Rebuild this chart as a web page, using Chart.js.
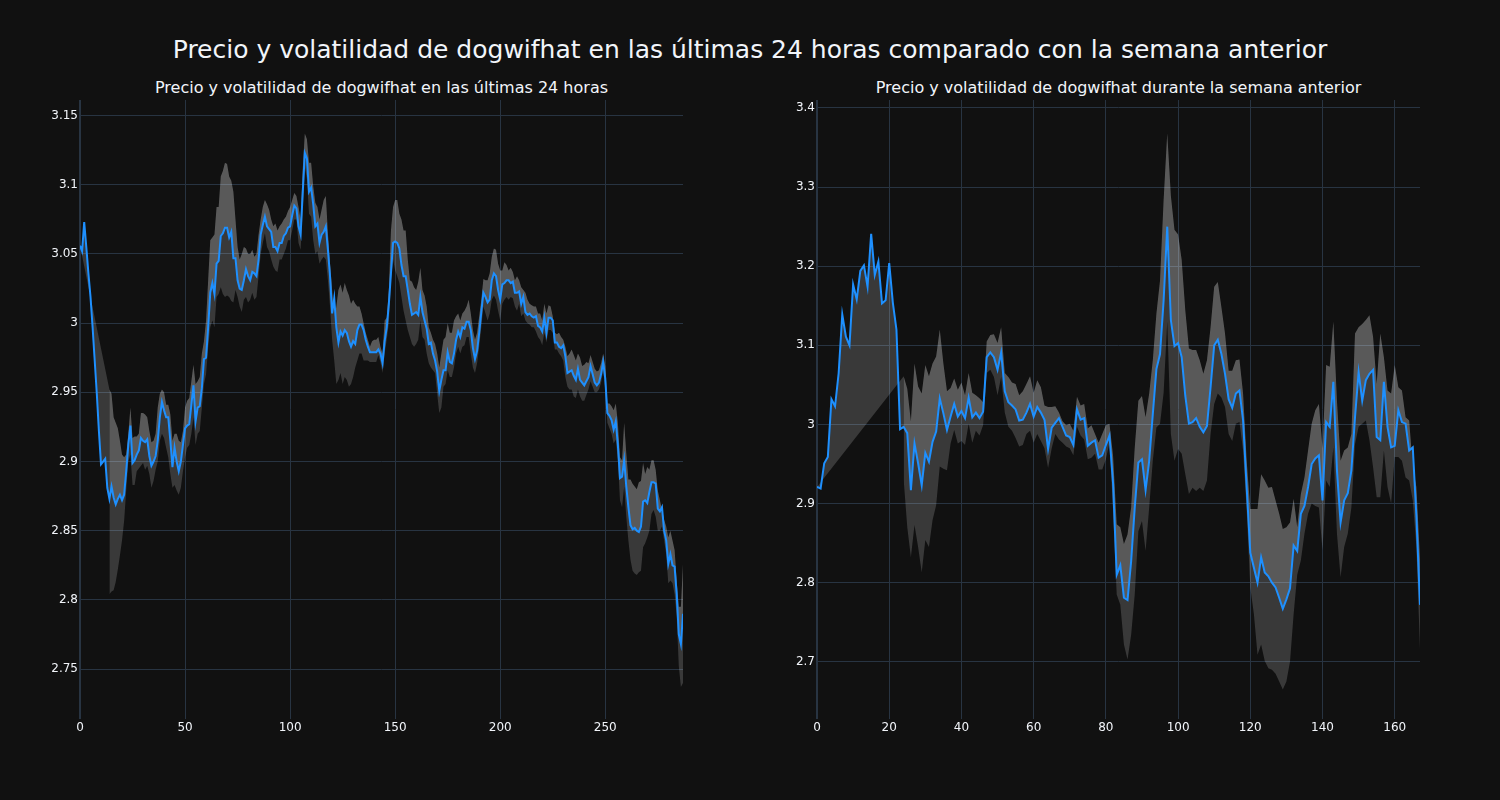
<!DOCTYPE html>
<html>
<head>
<meta charset="UTF-8">
<title>Precio y volatilidad de dogwifhat</title>
<script src="https://cdn.jsdelivr.net/npm/chart.js"></script>
<style>
  body { margin: 0; background: #111111; width: 1500px; height: 800px; overflow: hidden;
         font-family: "DejaVu Sans", sans-serif; color: #f2f5fa; }
  .title { position: absolute; white-space: nowrap; transform: translateX(-50%); }
  #mainTitle { left: 750px; top: 35px; font-size: 25px; line-height: 30px; }
  .subTitle { top: 78px; font-size: 16px; line-height: 20px; }
  canvas { position: absolute; top: 0; }
</style>
</head>
<body>
<div class="title" id="mainTitle">Precio y volatilidad de dogwifhat en las últimas 24 horas comparado con la semana anterior</div>
<div class="title subTitle" style="left:381.5px">Precio y volatilidad de dogwifhat en las últimas 24 horas</div>
<div class="title subTitle" style="left:1118.5px">Precio y volatilidad de dogwifhat durante la semana anterior</div>
<canvas id="dayChart" width="700" height="800" style="left:0px"></canvas>
<canvas id="weekChart" width="700" height="800" style="left:737px"></canvas>
<script>
// ---- last 24 hours (5 minute steps) ----
const dayPrice = [
  3.056, 3.052, 3.073, 3.055, 3.036, 3.019, 2.997, 2.973, 2.949, 2.922,
  2.898, 2.900, 2.902, 2.881, 2.873, 2.882, 2.874, 2.869, 2.873, 2.876,
  2.872, 2.876, 2.893, 2.912, 2.926, 2.899, 2.901, 2.905, 2.908, 2.917,
  2.915, 2.914, 2.916, 2.904, 2.897, 2.900, 2.904, 2.915, 2.932, 2.943,
  2.937, 2.932, 2.932, 2.915, 2.896, 2.910, 2.900, 2.893, 2.900, 2.912,
  2.924, 2.926, 2.927, 2.941, 2.955, 2.929, 2.939, 2.940, 2.953, 2.974,
  2.975, 2.997, 3.022, 3.029, 3.021, 3.043, 3.045, 3.063, 3.065, 3.069,
  3.069, 3.062, 3.066, 3.047, 3.047, 3.031, 3.025, 3.024, 3.031, 3.039,
  3.034, 3.031, 3.037, 3.036, 3.034, 3.046, 3.064, 3.071, 3.077, 3.070,
  3.068, 3.066, 3.055, 3.055, 3.052, 3.058, 3.058, 3.063, 3.065, 3.069,
  3.070, 3.078, 3.085, 3.083, 3.070, 3.064, 3.094, 3.123, 3.119, 3.095,
  3.098, 3.086, 3.070, 3.072, 3.058, 3.064, 3.066, 3.070, 3.053, 3.034,
  3.007, 3.018, 2.997, 2.986, 2.994, 2.991, 2.995, 2.993, 2.987, 2.983,
  2.987, 2.985, 2.995, 2.999, 2.999, 2.995, 2.988, 2.983, 2.979, 2.979,
  2.979, 2.979, 2.981, 2.978, 2.971, 2.987, 2.997, 3.014, 3.036, 3.058,
  3.059, 3.058, 3.054, 3.042, 3.034, 3.034, 3.024, 3.014, 3.006, 3.007,
  3.008, 3.006, 3.019, 3.008, 3.002, 2.996, 2.985, 2.986, 2.978, 2.973,
  2.965, 2.951, 2.959, 2.966, 2.966, 2.979, 2.972, 2.971, 2.978, 2.988,
  2.994, 2.990, 2.997, 2.996, 3.001, 3.001, 2.995, 2.982, 2.974, 2.980,
  2.993, 3.008, 3.022, 3.019, 3.015, 3.017, 3.031, 3.036, 3.034, 3.024,
  3.017, 3.028, 3.029, 3.031, 3.031, 3.029, 3.030, 3.022, 3.022, 3.023,
  3.014, 3.019, 3.008, 3.006, 3.007, 3.005, 3.004, 3.005, 2.998, 2.997,
  2.994, 3.004, 2.993, 3.004, 3.004, 3.002, 2.986, 2.986, 2.983, 2.982,
  2.984, 2.976, 2.964, 2.965, 2.966, 2.962, 2.959, 2.967, 2.959, 2.957,
  2.955, 2.958, 2.961, 2.969, 2.963, 2.957, 2.955, 2.957, 2.963, 2.972,
  2.960, 2.935, 2.933, 2.930, 2.923, 2.929, 2.912, 2.888, 2.889, 2.901,
  2.882, 2.867, 2.854, 2.851, 2.852, 2.850, 2.849, 2.853, 2.871, 2.872,
  2.870, 2.878, 2.885, 2.885, 2.884, 2.866, 2.864, 2.867, 2.850, 2.843,
  2.826, 2.833, 2.825, 2.824, 2.804, 2.775, 2.768, 2.790
];
const dayBandStart = 14;
const dayUpper = [
  2.952, 2.949, 2.932, 2.928, 2.924, 2.915, 2.905, 2.903, 2.905, 2.920,
  2.939, 2.917, 2.918, 2.918, 2.920, 2.935, 2.935, 2.934, 2.932, 2.922,
  2.914, 2.915, 2.920, 2.939, 2.949, 2.952, 2.950, 2.941, 2.941, 2.934,
  2.915, 2.920, 2.920, 2.915, 2.914, 2.922, 2.939, 2.944, 2.946, 2.958,
  2.970, 2.956, 2.958, 2.961, 2.978, 2.987, 3.002, 3.031, 3.060, 3.062,
  3.064, 3.084, 3.084, 3.106, 3.110, 3.116, 3.115, 3.106, 3.103, 3.095,
  3.075, 3.055, 3.046, 3.050, 3.055, 3.054, 3.050, 3.050, 3.053, 3.048,
  3.050, 3.064, 3.075, 3.084, 3.089, 3.086, 3.082, 3.075, 3.070, 3.072,
  3.067, 3.070, 3.072, 3.075, 3.077, 3.081, 3.084, 3.089, 3.094, 3.092,
  3.084, 3.075, 3.111, 3.137, 3.133, 3.116, 3.116, 3.099, 3.087, 3.084,
  3.075, 3.082, 3.089, 3.092, 3.065, 3.043, 3.024, 3.002, 3.012, 3.024,
  3.028, 3.022, 3.029, 3.024, 3.020, 3.014, 3.017, 3.014, 3.012, 3.012,
  3.007, 3.000, 2.993, 2.988, 2.983, 2.987, 2.988, 2.988, 2.990, 2.983,
  2.978, 3.002, 3.004, 3.024, 3.067, 3.084, 3.089, 3.089, 3.079, 3.075,
  3.067, 3.067, 3.046, 3.031, 3.030, 3.026, 3.024, 3.030, 3.040, 3.024,
  3.020, 3.012, 2.997, 2.993, 2.988, 2.985, 2.978, 2.968, 2.978, 2.988,
  2.990, 3.000, 2.993, 2.993, 3.002, 3.005, 3.007, 3.002, 3.007, 3.009,
  3.012, 3.017, 3.007, 2.995, 2.988, 2.993, 3.005, 3.017, 3.032, 3.031,
  3.031, 3.036, 3.048, 3.054, 3.053, 3.043, 3.038, 3.038, 3.044, 3.042,
  3.038, 3.040, 3.037, 3.031, 3.034, 3.031, 3.026, 3.024, 3.022, 3.017,
  3.014, 3.013, 3.012, 3.012, 3.007, 3.007, 3.002, 3.014, 3.007, 3.013,
  3.012, 3.005, 2.993, 2.992, 2.993, 2.990, 2.988, 2.983, 2.976, 2.978,
  2.981, 2.977, 2.973, 2.978, 2.975, 2.969, 2.970, 2.972, 2.971, 2.977,
  2.972, 2.967, 2.965, 2.966, 2.971, 2.978, 2.969, 2.942, 2.942, 2.940,
  2.937, 2.942, 2.928, 2.903, 2.901, 2.928, 2.906, 2.887, 2.887, 2.884,
  2.882, 2.880, 2.885, 2.886, 2.899, 2.891, 2.896, 2.894, 2.901, 2.901,
  2.894, 2.879, 2.872, 2.865, 2.858, 2.853, 2.845, 2.850, 2.843, 2.836,
  2.814, 2.795, 2.795, 2.826
];
const dayLower = [
  2.804, 2.806, 2.807, 2.813, 2.822, 2.832, 2.843, 2.857, 2.879, 2.900,
  2.905, 2.883, 2.883, 2.893, 2.895, 2.897, 2.899, 2.894, 2.897, 2.891,
  2.881, 2.886, 2.894, 2.900, 2.915, 2.920, 2.917, 2.910, 2.903, 2.891,
  2.881, 2.883, 2.879, 2.876, 2.881, 2.893, 2.903, 2.910, 2.912, 2.920,
  2.932, 2.912, 2.920, 2.922, 2.939, 2.956, 2.963, 2.982, 2.997, 3.002,
  2.997, 3.019, 3.021, 3.026, 3.021, 3.019, 3.020, 3.019, 3.016, 3.015,
  3.024, 3.019, 3.012, 3.008, 3.017, 3.019, 3.015, 3.017, 3.022, 3.017,
  3.019, 3.034, 3.050, 3.058, 3.065, 3.055, 3.052, 3.046, 3.041, 3.038,
  3.037, 3.046, 3.046, 3.050, 3.054, 3.060, 3.060, 3.067, 3.075, 3.075,
  3.058, 3.053, 3.082, 3.113, 3.104, 3.079, 3.077, 3.060, 3.050, 3.052,
  3.043, 3.046, 3.048, 3.046, 3.031, 3.012, 2.988, 2.973, 2.956, 2.959,
  2.964, 2.956, 2.961, 2.959, 2.954, 2.956, 2.961, 2.968, 2.973, 2.978,
  2.978, 2.973, 2.973, 2.973, 2.972, 2.972, 2.972, 2.972, 2.977, 2.972,
  2.964, 2.978, 2.988, 3.000, 3.031, 3.046, 3.038, 3.034, 3.029, 3.019,
  3.009, 3.002, 2.995, 2.990, 2.985, 2.983, 2.985, 2.988, 3.002, 2.990,
  2.988, 2.978, 2.971, 2.968, 2.966, 2.964, 2.949, 2.935, 2.939, 2.954,
  2.956, 2.966, 2.961, 2.961, 2.968, 2.978, 2.983, 2.978, 2.983, 2.984,
  2.990, 2.990, 2.978, 2.968, 2.964, 2.971, 2.983, 2.997, 3.012, 3.007,
  3.002, 3.007, 3.017, 3.020, 3.017, 3.009, 3.002, 3.014, 3.017, 3.019,
  3.017, 3.019, 3.018, 3.012, 3.009, 3.014, 3.005, 3.007, 3.002, 3.000,
  2.999, 2.997, 2.997, 2.994, 2.990, 2.988, 2.984, 2.993, 2.986, 2.995,
  2.995, 2.993, 2.981, 2.981, 2.978, 2.976, 2.973, 2.961, 2.954, 2.952,
  2.952, 2.947, 2.946, 2.952, 2.947, 2.944, 2.944, 2.948, 2.952, 2.958,
  2.954, 2.950, 2.950, 2.952, 2.957, 2.966, 2.952, 2.928, 2.924, 2.920,
  2.913, 2.916, 2.901, 2.872, 2.867, 2.882, 2.860, 2.843, 2.829, 2.821,
  2.819, 2.818, 2.820, 2.821, 2.838, 2.841, 2.845, 2.850, 2.862, 2.865,
  2.860, 2.850, 2.850, 2.853, 2.843, 2.833, 2.812, 2.814, 2.812, 2.804,
  2.788, 2.752, 2.737, 2.740
];
const dayXTicks = [0, 50, 100, 150, 200, 250];
const dayYTicks = [2.75, 2.8, 2.85, 2.9, 2.95, 3, 3.05, 3.1, 3.15];

// ---- previous week (hourly) ----
const weekPrice = [
  2.921, 2.919, 2.951, 2.959, 3.032, 3.023, 3.065, 3.139, 3.111, 3.100,
  3.177, 3.158, 3.194, 3.201, 3.174, 3.241, 3.189, 3.206, 3.153, 3.157,
  3.204, 3.154, 3.120, 2.994, 2.997, 2.989, 2.917, 2.976, 2.951, 2.923,
  2.964, 2.953, 2.978, 2.991, 3.033, 3.014, 2.993, 3.010, 3.026, 3.010,
  3.017, 3.008, 3.034, 3.009, 3.015, 3.008, 3.016, 3.085, 3.091, 3.085,
  3.069, 3.091, 3.042, 3.028, 3.024, 3.019, 3.005, 3.006, 3.015, 3.026,
  3.010, 3.022, 3.015, 3.006, 2.969, 2.996, 3.002, 3.008, 2.997, 2.986,
  2.984, 2.974, 3.019, 3.006, 3.008, 2.973, 2.977, 2.980, 2.958, 2.961,
  2.974, 2.986, 2.925, 2.810, 2.822, 2.781, 2.778, 2.827, 2.895, 2.952,
  2.956, 2.917, 2.954, 3.013, 3.070, 3.089, 3.157, 3.250, 3.132, 3.099,
  3.103, 3.085, 3.036, 3.001, 3.003, 3.008, 2.997, 2.990, 2.998, 3.047,
  3.100, 3.107, 3.089, 3.064, 3.032, 3.021, 3.039, 3.043, 3.005, 2.920,
  2.838, 2.819, 2.800, 2.832, 2.813, 2.808, 2.800, 2.794, 2.781, 2.767,
  2.779, 2.793, 2.847, 2.840, 2.887, 2.897, 2.921, 2.950, 2.957, 2.961,
  2.904, 3.003, 2.997, 3.054, 2.942, 2.876, 2.904, 2.913, 2.942, 3.009,
  3.066, 3.030, 3.056, 3.064, 3.069, 2.984, 2.980, 3.054, 2.997, 2.971,
  2.973, 3.018, 3.003, 3.001, 2.967, 2.971, 2.884, 2.772
];
const weekBandStart = 24;
const weekUpper = [
  3.061, 3.045, 3.004, 3.077, 3.048, 3.039, 3.075, 3.061, 3.077, 3.086,
  3.120, 3.077, 3.042, 3.046, 3.058, 3.044, 3.053, 3.037, 3.065, 3.040,
  3.037, 3.033, 3.028, 3.105, 3.113, 3.114, 3.103, 3.123, 3.065, 3.060,
  3.053, 3.051, 3.037, 3.042, 3.051, 3.061, 3.040, 3.056, 3.047, 3.024,
  3.022, 3.022, 3.023, 3.015, 3.004, 2.999, 3.001, 2.992, 3.035, 3.024,
  3.026, 2.995, 2.999, 2.988, 2.977, 2.988, 2.999, 3.001, 2.960, 2.874,
  2.870, 2.849, 2.861, 2.895, 2.971, 3.030, 3.036, 3.009, 3.039, 3.081,
  3.140, 3.182, 3.284, 3.368, 3.289, 3.246, 3.240, 3.208, 3.144, 3.096,
  3.094, 3.094, 3.081, 3.064, 3.081, 3.123, 3.174, 3.180, 3.148, 3.115,
  3.068, 3.068, 3.081, 3.082, 3.039, 2.954, 2.893, 2.893, 2.893, 2.937,
  2.929, 2.920, 2.921, 2.904, 2.887, 2.868, 2.870, 2.876, 2.906, 2.870,
  2.912, 2.933, 2.967, 3.001, 3.018, 3.026, 2.970, 3.075, 3.073, 3.130,
  3.030, 2.954, 2.967, 2.971, 2.988, 3.115, 3.123, 3.127, 3.132, 3.138,
  3.111, 3.051, 3.115, 3.085, 3.043, 3.039, 3.075, 3.047, 3.043, 3.009,
  3.005, 2.946, 2.921, 2.830
];
const weekLower = [
  2.930, 2.870, 2.832, 2.873, 2.845, 2.813, 2.854, 2.845, 2.879, 2.898,
  2.947, 2.944, 2.942, 2.976, 2.993, 2.976, 2.979, 2.974, 3.001, 2.977,
  2.992, 2.986, 2.999, 3.065, 3.069, 3.060, 3.037, 3.060, 3.015, 2.997,
  2.992, 2.983, 2.972, 2.974, 2.988, 2.992, 2.977, 2.988, 2.979, 2.970,
  2.945, 2.970, 2.988, 2.981, 2.977, 2.972, 2.970, 2.961, 2.997, 2.986,
  2.981, 2.956, 2.958, 2.963, 2.943, 2.943, 2.956, 2.977, 2.890, 2.785,
  2.772, 2.722, 2.703, 2.734, 2.785, 2.865, 2.878, 2.840, 2.895, 2.954,
  2.996, 3.001, 3.040, 3.130, 2.988, 2.954, 2.969, 2.963, 2.937, 2.912,
  2.920, 2.916, 2.920, 2.916, 2.929, 2.988, 3.026, 3.039, 3.034, 3.022,
  2.988, 2.979, 3.001, 3.003, 2.967, 2.891, 2.794, 2.760, 2.709, 2.722,
  2.701, 2.692, 2.690, 2.685, 2.675, 2.665, 2.675, 2.700, 2.760, 2.810,
  2.828, 2.862, 2.887, 2.900, 2.897, 2.895, 2.841, 2.929, 2.921, 2.971,
  2.862, 2.807, 2.845, 2.862, 2.895, 2.975, 2.997, 3.001, 3.005, 2.980,
  2.946, 2.908, 2.908, 2.967, 2.921, 2.900, 2.959, 2.959, 2.954, 2.933,
  2.929, 2.904, 2.845, 2.715
];
const weekXTicks = [0, 20, 40, 60, 80, 100, 120, 140, 160];
const weekYTicks = [2.7, 2.8, 2.9, 3, 3.1, 3.2, 3.3, 3.4];

Chart.defaults.font.family = '"DejaVu Sans", sans-serif';
Chart.defaults.font.size = 12;
Chart.defaults.color = '#f2f5fa';

const gridColor = '#283442';
const bandColor = 'rgba(255,255,255,0.17)';

function drawPanel(canvasId, price, upper, lower, bandStart, yMin, yMax, xTicks, yTicks) {
  const pricePts = price.map((v, i) => ({ x: i, y: v }));
  // the band polygon closes back to the first price point, as in the original
  const upperPts = [{ x: 0, y: price[0] }].concat(upper.map((v, k) => ({ x: bandStart + k, y: v })));
  const lowerPts = lower.map((v, k) => ({ x: bandStart + k, y: v }));

  return new Chart(document.getElementById(canvasId), {
    type: 'line',
    data: {
      datasets: [
        { data: pricePts, borderColor: '#1e90ff', borderWidth: 2, pointRadius: 0, fill: false, tension: 0 },
        { data: upperPts, borderColor: 'rgba(0,0,0,0)', borderWidth: 0, pointRadius: 0, fill: '-1', backgroundColor: bandColor },
        { data: lowerPts, borderColor: 'rgba(0,0,0,0)', borderWidth: 0, pointRadius: 0, fill: '-1', backgroundColor: bandColor }
      ]
    },
    options: {
      responsive: false,
      animation: false,
      events: [],
      layout: { padding: { top: 100, right: 17, left: 0, bottom: 0 } },
      plugins: { legend: { display: false }, tooltip: { enabled: false } },
      scales: {
        x: {
          type: 'linear',
          min: 0,
          max: price.length - 1,
          border: { display: false },
          grid: {
            color: gridColor,
            drawTicks: false,
            lineWidth: c => (c.tick && c.tick.value === 0 ? 2 : 1)
          },
          ticks: { padding: 2, autoSkip: false, maxRotation: 0, callback: v => String(v) },
          afterBuildTicks: s => { s.ticks = xTicks.map(v => ({ value: v })); },
          afterFit: s => { s.height = 81; }
        },
        y: {
          min: yMin,
          max: yMax,
          border: { display: false },
          grid: { color: gridColor, drawTicks: false },
          ticks: { padding: 2, autoSkip: false, callback: v => String(parseFloat(v.toFixed(2))) },
          afterBuildTicks: s => { s.ticks = yTicks.map(v => ({ value: v })); },
          afterFit: s => { s.width = 80; }
        }
      }
    }
  });
}

drawPanel('dayChart', dayPrice, dayUpper, dayLower, dayBandStart, 2.7139, 3.1613, dayXTicks, dayYTicks);
drawPanel('weekChart', weekPrice, weekUpper, weekLower, weekBandStart, 2.6277, 3.4101, weekXTicks, weekYTicks);
</script>
</body>
</html>
